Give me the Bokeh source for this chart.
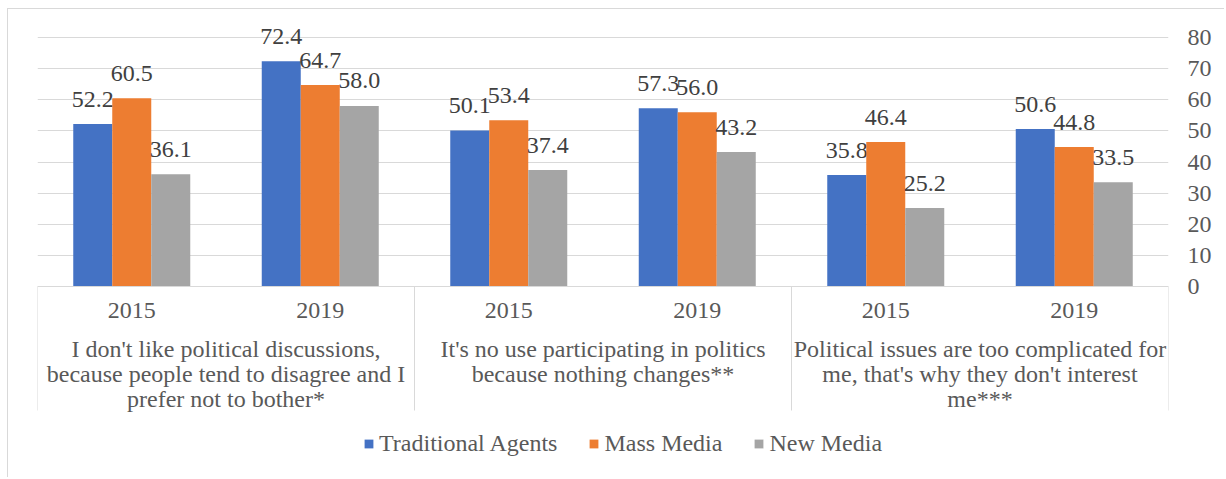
from bokeh.plotting import figure
from bokeh.models import (ColumnDataSource, FixedTicker, LinearAxis, Legend,
                          LegendItem, Range1d, Grid)
from bokeh.core.properties import value
from bokeh.embed import file_html
from bokeh.resources import INLINE

# ---------------- data ----------------
groups = [
    "I don't like political discussions,\nbecause people tend to disagree and I\nprefer not to bother*",
    "It's no use participating in politics\nbecause nothing changes**",
    "Political issues are too complicated for\nme, that's why they don't interest\nme***",
]
years = ["2015", "2019"]
series_names = ["Traditional Agents", "Mass Media", "New Media"]
traditional_agents = [52.2, 72.4, 50.1, 57.3, 35.8, 50.6]
mass_media = [60.5, 64.7, 53.4, 56.0, 46.4, 44.8]
new_media = [36.1, 58.0, 37.4, 43.2, 25.2, 33.5]
y_ticks = [0, 10, 20, 30, 40, 50, 60, 70, 80]

# ---------------- style ----------------
colors = ["#4472C4", "#ED7D31", "#A5A5A5"]
FONT = "Liberation Serif"
FS = "24px"
TXT = "#595959"
LBL = "#404040"
GRID = "#d9d9d9"

W, H = 1217, 469
FRAME_L, FRAME_R = 29, 1160
ZERO_Y = 277                 # canvas px of value 0
PX_PER_UNIT = 249 / 80.0
Y_END = ZERO_Y / PX_PER_UNIT
Y_START = -(H - ZERO_Y) / PX_PER_UNIT
AXIS_DEPTH = 124 / PX_PER_UNIT   # depth of category separators below 0
BW = 39 / 188.5                  # bar width in category units

cat_labels = [yr for g in groups for yr in years]
n = len(cat_labels)
xc = [i + 0.5 for i in range(n)]

p = figure(width=W, height=H, x_range=Range1d(0, n), y_range=Range1d(Y_START, Y_END),
           output_backend="svg", toolbar_location=None,
           min_border_left=FRAME_L, min_border_right=W - FRAME_R,
           min_border_top=0, min_border_bottom=0,
           x_axis_location=None, y_axis_location=None)
p.outline_line_color = None
p.grid.visible = False
p.background_fill_color = "white"
p.border_fill_color = "white"
p.styles = {"border-left": "1px solid #d9d9d9", "border-top": "1px solid #d9d9d9",
            "margin-left": "7px", "margin-top": "8px"}

ticker = FixedTicker(ticks=y_ticks)
p.add_layout(Grid(dimension=1, ticker=ticker, grid_line_color=GRID, grid_line_width=1))

yaxis = LinearAxis(ticker=ticker)
yaxis.axis_line_color = None
yaxis.major_tick_line_color = None
yaxis.minor_tick_line_color = None
yaxis.major_tick_out = 0
yaxis.major_tick_in = 0
yaxis.major_label_standoff = 19
yaxis.major_label_text_font = FONT
yaxis.major_label_text_font_size = FS
yaxis.major_label_text_color = TXT
p.add_layout(yaxis, "right")

series = [traditional_agents, mass_media, new_media]
offsets = [-BW, 0.0, BW]
items = []
for name, vals, col, off in zip(series_names, series, colors, offsets):
    src = ColumnDataSource(dict(x=[x + off for x in xc], top=vals,
                                lab=["%.1f" % v for v in vals]))
    r = p.vbar(x="x", top="top", width=BW, source=src, fill_color=col, line_color=None)
    p.text(x="x", y="top", text="lab", source=src, y_offset=-25,
           text_align="center", text_baseline="alphabetic",
           text_font=value(FONT), text_font_size=FS, text_color=LBL)
    items.append(LegendItem(label=name, renderers=[r]))

# category axis lines
p.segment(x0=[0], y0=[0], x1=[n], y1=[0], line_color=GRID, line_width=1)
bounds = list(range(0, n + 1, len(years)))
p.segment(x0=bounds, y0=[0] * len(bounds), x1=bounds, y1=[-AXIS_DEPTH] * len(bounds),
          line_color=GRID, line_width=1)

p.text(x=xc, y=[0] * n, text=cat_labels, y_offset=24, text_align="center",
       text_baseline="alphabetic", text_font=value(FONT), text_font_size=FS, text_color=TXT)

gx, gy, gt, goff = [], [], [], []
for gi, g in enumerate(groups):
    for li, line in enumerate(g.split("\n")):
        gx.append(gi * len(years) + len(years) / 2)
        gy.append(0)
        gt.append(line)
        goff.append(62 + 25 * li)
p.text(x=gx, y=gy, text=gt, y_offset=goff, text_align="center",
       text_baseline="alphabetic", text_font=value(FONT), text_font_size=FS, text_color=TXT)

legend = Legend(items=items, orientation="horizontal", location=(326, 21),
                glyph_width=11, glyph_height=11, label_standoff=5, spacing=31,
                padding=0, margin=0, border_line_color=None, background_fill_alpha=0,
                label_text_font=FONT, label_text_font_size=FS, label_text_color=TXT)
p.add_layout(legend)

open("out.html", "w").write(file_html(p, INLINE))
